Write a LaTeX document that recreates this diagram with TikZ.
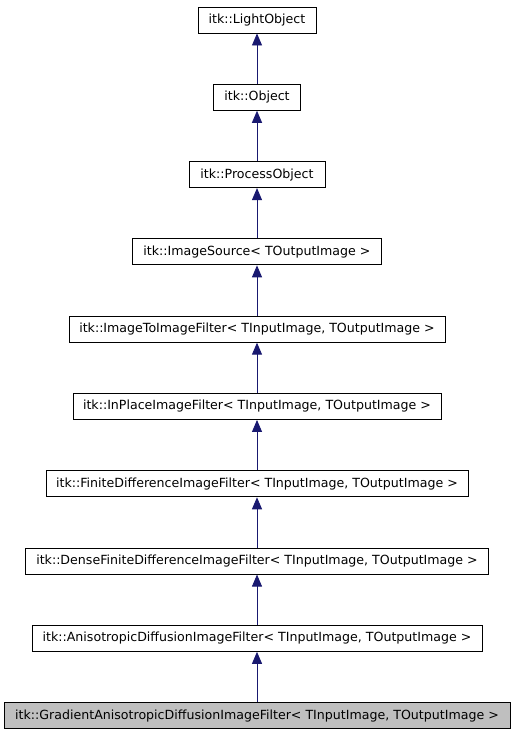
\documentclass[tikz,border=0pt]{standalone}
\usepackage{fontspec}
\setmainfont{DejaVu Sans}
\usepackage{xcolor}
\usetikzlibrary{positioning,arrows.meta}
\definecolor{EdgeBlue}{HTML}{191970}
\definecolor{CurrentGray}{HTML}{BFBFBF}
\tikzset{
    classbox/.style={
        draw=black,
        line width=0.9pt,
        fill=white,
        minimum height=26pt,
        inner xsep=0pt,
        font=\fontsize{12.6}{14}\selectfont
    },
    inherits/.style={
        EdgeBlue,
        line width=0.9pt,
        -{Triangle[length=12pt,width=10pt]}
    }
}

\begin{document}
\begin{tikzpicture}[x=1pt,y=1pt,node distance=50.4pt]
        \useasboundingbox (0,0) rectangle (515,-736);

        \node[classbox, minimum width=118pt] (light) at (257,-20) {itk::LightObject};
        \node[classbox, minimum width=87pt, below=of light] (object) {itk::Object};
        \node[classbox, minimum width=136pt, below=of object] (process) {itk::ProcessObject};
        \node[classbox, minimum width=249pt, below=of process] (source) {itk::ImageSource< TOutputImage >};
        \node[classbox, minimum width=376pt, below=of source] (toimage) {itk::ImageToImageFilter< TInputImage, TOutputImage >};
        \node[classbox, minimum width=368pt, below=of toimage] (inplace) {itk::InPlaceImageFilter< TInputImage, TOutputImage >};
        \node[classbox, minimum width=422pt, below=of inplace] (finite) {itk::FiniteDifferenceImageFilter< TInputImage, TOutputImage >};
        \node[classbox, minimum width=463pt, below=of finite] (dense) {itk::DenseFiniteDifferenceImageFilter< TInputImage, TOutputImage >};
        \node[classbox, minimum width=450pt, below=of dense] (aniso) {itk::AnisotropicDiffusionImageFilter< TInputImage, TOutputImage >};
        \node[classbox, fill=CurrentGray, minimum width=506pt, below=of aniso] (gradient) {itk::GradientAnisotropicDiffusionImageFilter< TInputImage, TOutputImage >};

        \draw[inherits] (object) -- (light);
        \draw[inherits] (process) -- (object);
        \draw[inherits] (source) -- (process);
        \draw[inherits] (toimage) -- (source);
        \draw[inherits] (inplace) -- (toimage);
        \draw[inherits] (finite) -- (inplace);
        \draw[inherits] (dense) -- (finite);
        \draw[inherits] (aniso) -- (dense);
        \draw[inherits] (gradient) -- (aniso);
    \end{tikzpicture}
\end{document}
